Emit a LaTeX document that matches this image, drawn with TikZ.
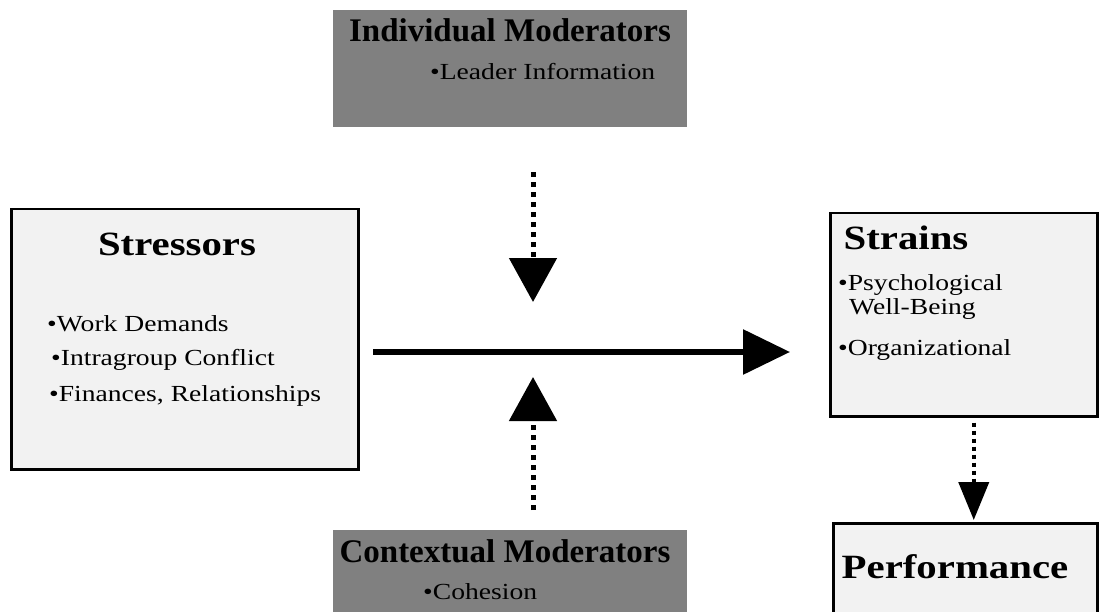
\documentclass[tikz,border=0pt]{standalone}
\usepackage{fontspec}
\setmainfont{Liberation Serif}
\newfontfamily\widefont{Liberation Serif}[FakeStretch=1.2]
\usetikzlibrary{arrows.meta}

\tikzset{
  litebox/.style={draw, line width=2.5pt, fill=black!5, inner sep=0pt, anchor=north west},
  greybox/.style={fill=black!50, inner sep=0pt, anchor=north west},
  boxhead/.style={font=\widefont\bfseries\fontsize{34}{40}\selectfont, anchor=base, inner sep=0pt},
  modhead/.style={font=\bfseries\fontsize{33}{40}\selectfont, anchor=base, inner sep=0pt},
  bullet/.style={font=\widefont\fontsize{23}{28}\selectfont, anchor=base west, inner sep=0pt},
  mainflow/.style={line width=6pt, -{Triangle[length=47pt,width=44pt]}},
  modflow/.style={line width=5pt, dash pattern=on 5pt off 5pt, -{Triangle[length=44pt,width=47pt]}},
  perfflow/.style={line width=4pt, dash pattern=on 4pt off 4pt, -{Triangle[length=38pt,width=30pt]}}
}

\begin{document}
\begin{tikzpicture}[x=1pt,y=-1pt]
  \useasboundingbox (0,0) rectangle (1099,612);

  % boxes
  \node[litebox, minimum width=347pt, minimum height=260pt] (stress) at (10,208) {};
  \node[litebox, minimum width=267pt, minimum height=203pt] (strain) at (829,212) {};
  \node[litebox, minimum width=264pt, minimum height=110pt] (perf) at (832,522) {};
  \node[greybox, minimum width=354pt, minimum height=117pt] (indiv) at (333,10) {};
  \node[greybox, minimum width=354pt, minimum height=100pt] (context) at (333,530) {};

  % texts
  \node[boxhead] (stresshead) at (177,255) {Stressors};
  \node[bullet] (work) at (47,331) {•Work Demands};
  \node[bullet] (intra) at (51,365) {•Intragroup Conflict};
  \node[bullet] (money) at (49,401) {•Finances, Relationships};

  \node[boxhead] (strainhead) at (906,249) {Strains};
  \node[bullet] (psych) at (838,290) {•Psychological};
  \node[bullet] (wellb) at (849,314) {Well-Being};
  \node[bullet] (organ) at (838,355) {•Organizational};

  \node[boxhead] (perfhead) at (955,578) {Performance};

  \node[modhead] (indivhead) at (510,42) {Individual Moderators};
  \node[bullet] (leader) at (430,80) {•Leader Information};

  \node[modhead] (contexthead) at (505,562) {Contextual Moderators};
  \node[bullet] (cohes) at (423,599) {•Cohesion};

  % arrows
  \coordinate (flowin) at (373,352);
  \coordinate (flowout) at (790,352);
  \draw[mainflow] (flowin) -- (flowout);
  \draw[modflow] (indiv.south -| 533,0) ++(0,45) -- (533,302);
  \draw[modflow] (context.north -| 533,0) ++(0,-20) -- (533,377);
  \draw[perfflow] ([xshift=10pt,yshift=-5pt]strain.south) -- ([xshift=10pt,yshift=2pt]strain.south |- perf.north);
\end{tikzpicture}
\end{document}
